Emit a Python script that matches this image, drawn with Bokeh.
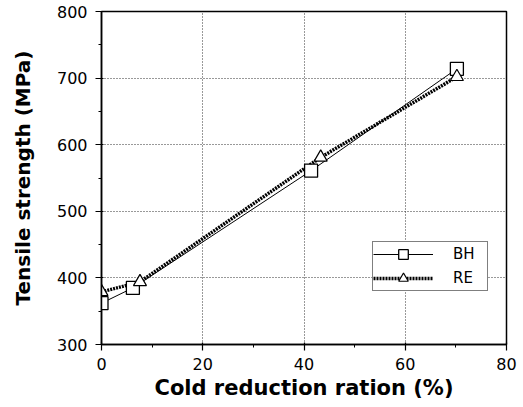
from bokeh.plotting import figure
from bokeh.models import Legend, LegendItem, FixedTicker
from bokeh.embed import file_html
from bokeh.resources import INLINE

# Data
bh_x = [0, 6.2, 41.4, 70.2]
bh_y = [362, 385, 561, 714]
re_x = [0, 7.6, 43.3, 70.2]
re_y = [379, 394, 581, 702]
x_ticks = [0, 20, 40, 60, 80]
y_ticks = [300, 400, 500, 600, 700, 800]

p = figure(width=523, height=407, x_range=(0, 80), y_range=(300, 800),
           output_backend="svg", toolbar_location=None,
           min_border_left=101, min_border_right=17, min_border_top=11, min_border_bottom=63)
p.background_fill_color = "white"
p.border_fill_color = "white"
p.outline_line_color = "black"
p.outline_line_width = 1.5

p.xaxis.ticker = FixedTicker(ticks=x_ticks, minor_ticks=[10, 30, 50, 70])
p.yaxis.ticker = FixedTicker(ticks=y_ticks, minor_ticks=[350, 450, 550, 650, 750])

for ax in (p.xaxis, p.yaxis):
    ax.axis_line_color = "black"
    ax.axis_line_width = 1.5
    ax.major_tick_line_color = "black"
    ax.major_tick_line_width = 1.2
    ax.minor_tick_line_color = "black"
    ax.major_tick_out = 6
    ax.major_tick_in = 2
    ax.minor_tick_out = 3
    ax.minor_tick_in = 0
    ax.major_label_text_font = "DejaVu Sans"
    ax.major_label_text_font_size = "16px"
    ax.major_label_text_color = "black"
    ax.axis_label_text_font = "DejaVu Sans"
    ax.axis_label_text_font_style = "bold"
    ax.axis_label_text_color = "black"

p.xaxis.axis_label = "Cold reduction ration (%)"
p.yaxis.axis_label = "Tensile strength (MPa)"
p.xaxis.axis_label_text_font_size = "21px"
p.yaxis.axis_label_text_font_size = "20px"
p.xaxis.major_label_standoff = 7
p.yaxis.major_label_standoff = 8
p.xaxis.axis_label_standoff = 3
p.yaxis.axis_label_standoff = 19

p.grid.grid_line_color = "#333333"
p.grid.grid_line_dash = "1 2"
p.grid.grid_line_width = 1
p.xgrid.ticker = FixedTicker(ticks=[20, 40, 60])
p.ygrid.ticker = FixedTicker(ticks=[400, 500, 600, 700])

bh_line = p.line(bh_x, bh_y, line_color="black", line_width=1)
re_line = p.line(re_x, re_y, line_color="black", line_width=3.5, line_dash="2 1")
bh_pts = p.scatter(bh_x, bh_y, marker="square", size=13, fill_color="white",
                   line_color="black", line_width=1.3)
re_pts = p.scatter(re_x, re_y, marker="triangle", size=13, fill_color="white",
                   line_color="black", line_width=1.2)

legend = Legend(items=[LegendItem(label="BH", renderers=[bh_line, bh_pts]),
                       LegendItem(label="RE", renderers=[re_line, re_pts])],
                location=(271, 53), orientation="vertical")
legend.border_line_color = "black"
legend.border_line_width = 1.5
legend.background_fill_color = "white"
legend.background_fill_alpha = 1
legend.label_text_font = "DejaVu Sans"
legend.label_text_font_size = "15px"
legend.label_text_color = "black"
legend.glyph_width = 60
legend.glyph_height = 24
legend.label_height = 24
legend.label_width = 34
legend.label_standoff = 20
legend.spacing = 0
legend.padding = 0
legend.margin = 0
p.add_layout(legend, "center")

open("out.html", "w").write(file_html(p, INLINE))
